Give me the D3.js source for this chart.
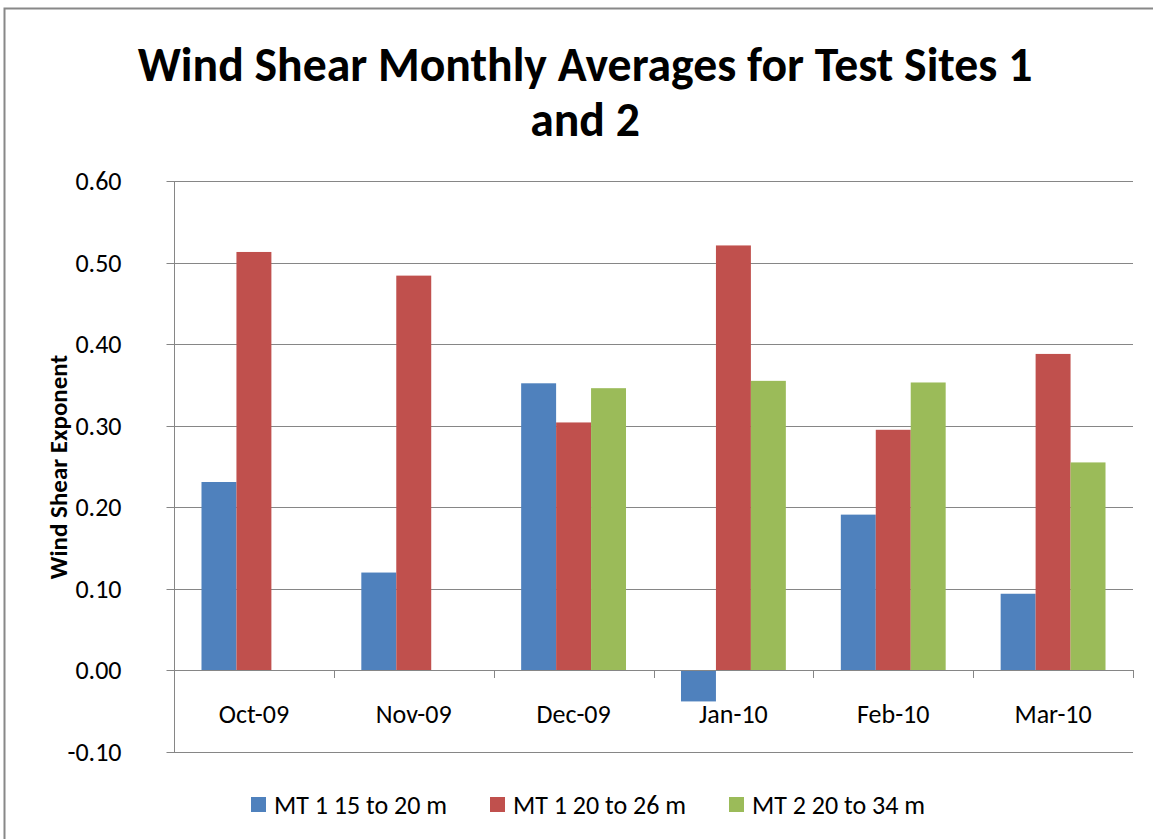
<!DOCTYPE html>
<html>
<head>
<meta charset="utf-8">
<script src="https://cdn.jsdelivr.net/npm/d3@7"></script>
<style>
  html, body { margin: 0; padding: 0; background: #fff; }
  svg { display: block; }
  text { font-family: Carlito, Calibri, Lato, "Open Sans", sans-serif; fill: #000; }
</style>
</head>
<body>
<svg id="chart" width="1153" height="839"></svg>
<script>
// ---- data ----
const categories = ["Oct-09", "Nov-09", "Dec-09", "Jan-10", "Feb-10", "Mar-10"];
const seriesNames = ["MT 1 15 to 20 m", "MT 1 20 to 26 m", "MT 2 20 to 34 m"];
const mt1_15_20 = [0.231, 0.120, 0.352, -0.038, 0.191, 0.094];
const mt1_20_26 = [0.513, 0.484, 0.304, 0.521, 0.295, 0.388];
const mt2_20_34 = [null, null, 0.346, 0.355, 0.353, 0.255];
const yTicks = [-0.10, 0.00, 0.10, 0.20, 0.30, 0.40, 0.50, 0.60];
const colors = ["#4F81BD", "#C0504D", "#9BBB59"];
const titleLines = ["Wind Shear Monthly Averages for Test Sites 1", "and 2"];
const yTitle = "Wind Shear Exponent";

const seriesValues = [mt1_15_20, mt1_20_26, mt2_20_34];

const svg = d3.select("#chart");
const W = 1153, H = 839;

// outer border (chart area frame)
svg.append("rect").attr("x", 4.5).attr("y", 8.5).attr("width", W + 10).attr("height", H + 10)
  .attr("fill", "#fff").attr("stroke", "#888").attr("stroke-width", 2);

const plot = { left: 174, right: 1133, top: 181, bottom: 752 };

const x0 = d3.scaleBand().domain(categories).range([plot.left, plot.right]).paddingInner(0).paddingOuter(0);
const innerPad = 0.172; // gap on each side of the group
const x1 = d3.scaleBand().domain(d3.range(seriesNames.length))
  .range([x0.bandwidth() * innerPad, x0.bandwidth() * (1 - innerPad)]).padding(0);
const y = d3.scaleLinear().domain([-0.10, 0.60]).range([plot.bottom, plot.top]);

// gridlines
svg.append("g").selectAll("line").data(yTicks).join("line")
  .attr("x1", plot.left).attr("x2", plot.right)
  .attr("y1", d => Math.round(y(d)) + 0.5).attr("y2", d => Math.round(y(d)) + 0.5)
  .attr("stroke", "#868686").attr("stroke-width", 1);

// y axis
const fmt = d => d < 0 ? "-" + d3.format(".2f")(-d) : d3.format(".2f")(d);
const yAxis = d3.axisLeft(y).tickValues(yTicks).tickFormat(fmt).tickSize(8).tickPadding(45);
const yg = svg.append("g").attr("transform", `translate(${plot.left + 0.5},0)`).call(yAxis);
yg.select(".domain").attr("stroke", "#868686").attr("d", `M0,${plot.top}V${plot.bottom}`);
yg.selectAll(".tick line").attr("stroke", "#868686");
yg.selectAll(".tick text").attr("font-size", 26).style("font-family", "Carlito, Calibri, Lato, sans-serif").attr("fill", "#000");
yg.selectAll(".tick").attr("transform", d => `translate(0,${Math.round(y(d)) + 0.5})`);

// bars
const groups = svg.append("g").selectAll("g").data(categories).join("g")
  .attr("transform", d => `translate(${x0(d)},0)`);
groups.selectAll("rect")
  .data((c, i) => seriesValues.map((s, k) => ({ k, v: s[i] })).filter(d => d.v !== null))
  .join("rect")
  .attr("x", d => x1(d.k))
  .attr("width", x1.bandwidth())
  .attr("y", d => y(Math.max(0, d.v)))
  .attr("height", d => Math.abs(y(d.v) - y(0)))
  .attr("fill", d => colors[d.k]);

// x axis at zero
const xAxis = d3.axisBottom(x0).tickSize(8).tickSizeOuter(0).tickFormat(() => "");
const xg = svg.append("g").attr("transform", `translate(0,${Math.round(y(0)) + 0.5})`).call(xAxis);
xg.select(".domain").attr("stroke", "#868686").attr("d", `M${plot.left},0H${plot.right}`);
xg.selectAll(".tick").remove();
// category boundary ticks
svg.append("g").selectAll("line").data(categories.map((c, i) => i + 1)).join("line")
  .attr("x1", i => Math.round(plot.left + i * x0.bandwidth()) + 0.5)
  .attr("x2", i => Math.round(plot.left + i * x0.bandwidth()) + 0.5)
  .attr("y1", Math.round(y(0))).attr("y2", Math.round(y(0)) + 8)
  .attr("stroke", "#868686");
// category labels
svg.append("g").selectAll("text").data(categories).join("text")
  .attr("x", d => x0(d) + x0.bandwidth() / 2)
  .attr("y", Math.round(y(0)) + 53)
  .attr("text-anchor", "middle").attr("font-size", 26).text(d => d);

// title
const tg = svg.append("g");
tg.selectAll("text").data(titleLines).join("text")
  .attr("x", 585).attr("y", (d, i) => 81 + i * 55)
  .attr("text-anchor", "middle").attr("font-weight", "bold").attr("font-size", 40)
  .text(d => d);
// fit title width to reference (~895px for first line)
const t0 = tg.select("text").node();
const w0 = t0.getComputedTextLength();
const fs = 40 * 895 / w0;
tg.selectAll("text").attr("font-size", fs);

// y axis title
svg.append("text")
  .attr("transform", `translate(67,${467}) rotate(-90)`)
  .attr("text-anchor", "middle").attr("font-weight", "bold").attr("font-size", 25)
  .text(yTitle);

// legend
const legendX = [251, 490, 729];
const lg = svg.append("g").selectAll("g").data(seriesNames).join("g")
  .attr("transform", (d, i) => `translate(${legendX[i]},797)`);
lg.append("rect").attr("width", 15).attr("height", 15).attr("fill", (d, i) => colors[i]);
lg.append("text").attr("x", 23).attr("y", 17).attr("font-size", 26).text(d => d);
</script>
</body>
</html>
